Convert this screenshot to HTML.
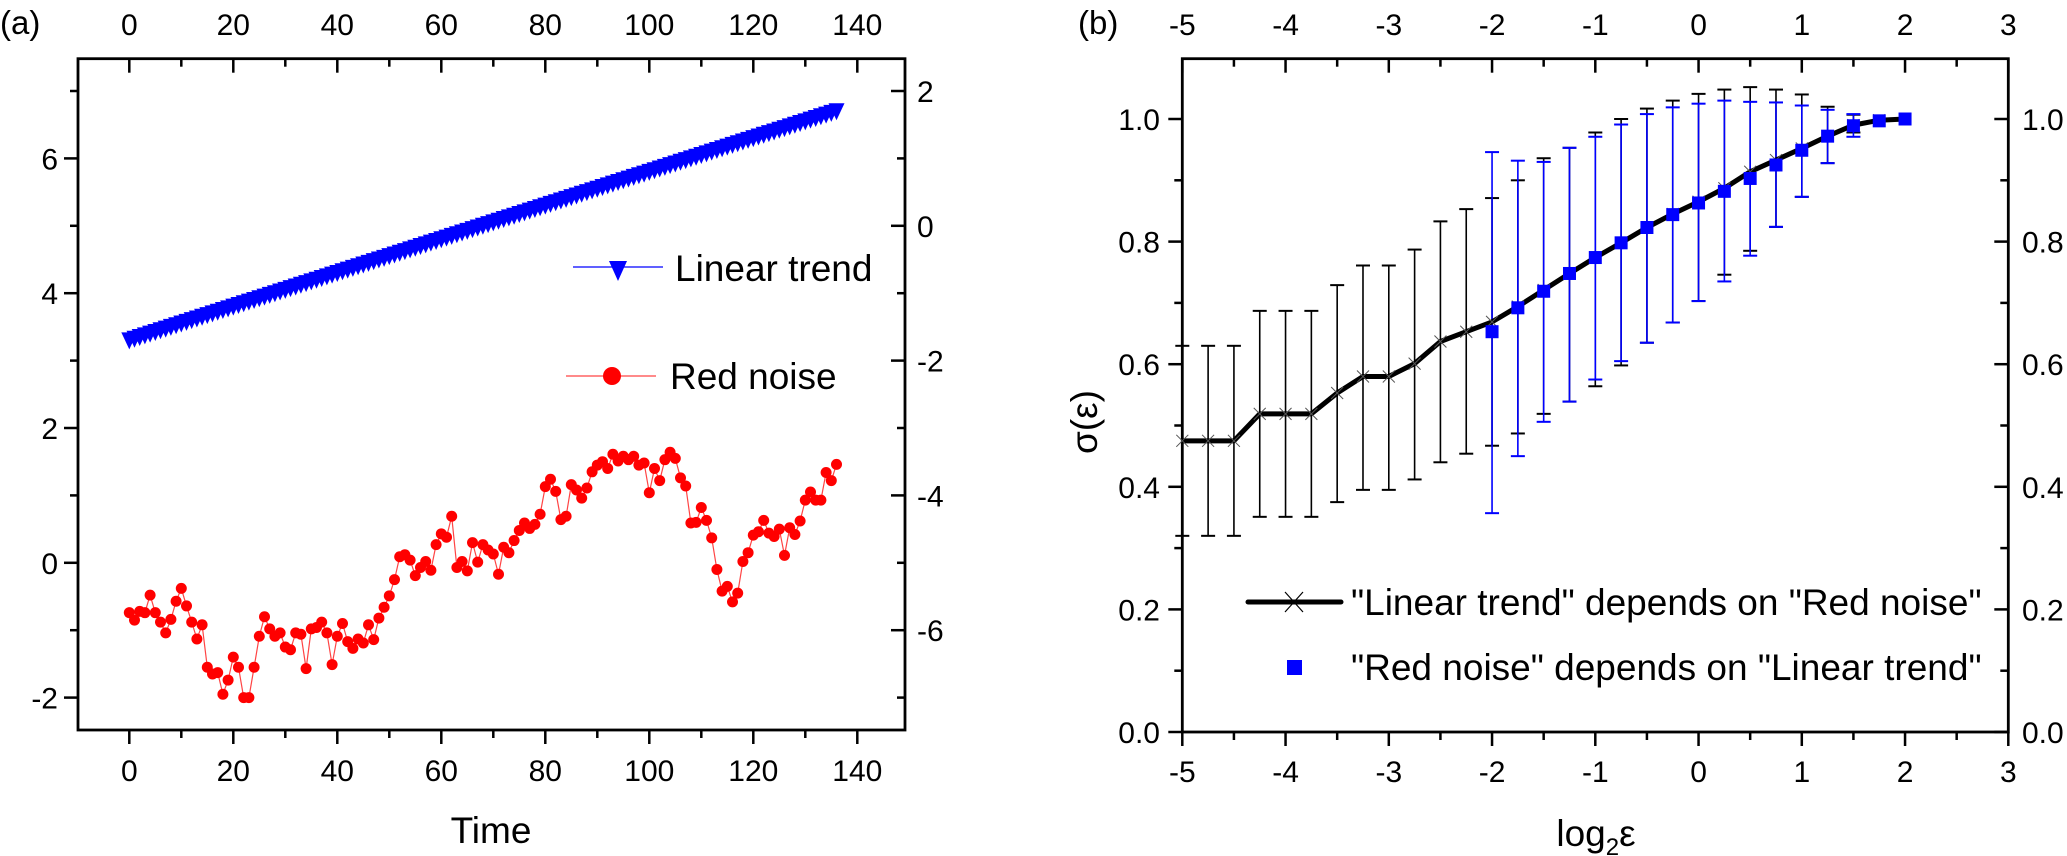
<!DOCTYPE html>
<html><head><meta charset="utf-8"><style>
html,body{margin:0;padding:0;background:#fff;}
svg{display:block;font-family:"Liberation Sans",Arial,sans-serif;}
</style></head><body>
<svg id="fig" width="2067" height="856" viewBox="0 0 2067 856" xmlns="http://www.w3.org/2000/svg">
<text x="0" y="34" font-size="33">(a)</text>
<text x="1078" y="34" font-size="33">(b)</text>
<g id="pa"></g>
<g id="pb"></g>
</svg>
<script>
// ---------- Panel (a) data ----------
const redNoise = [-0.74,-0.85,-0.72,-0.74,-0.48,-0.74,-0.88,-1.04,-0.84,-0.57,-0.38,-0.64,-0.88,-1.13,-0.92,-1.55,-1.65,-1.63,-1.95,-1.74,-1.40,-1.55,-2.0,-2.0,-1.55,-1.09,-0.80,-0.98,-1.09,-1.04,-1.25,-1.29,-1.04,-1.06,-1.57,-0.98,-0.96,-0.88,-1.04,-1.51,-1.09,-0.90,-1.17,-1.27,-1.13,-1.19,-0.92,-1.14,-0.82,-0.66,-0.49,-0.25,0.09,0.12,0.04,-0.19,-0.07,0.02,-0.11,0.27,0.43,0.38,0.69,-0.07,0.02,-0.12,0.30,0.01,0.27,0.19,0.13,-0.17,0.23,0.15,0.33,0.48,0.59,0.51,0.57,0.72,1.13,1.24,1.06,0.64,0.69,1.16,1.08,0.96,1.11,1.35,1.45,1.50,1.40,1.61,1.51,1.58,1.53,1.58,1.45,1.48,1.04,1.40,1.22,1.53,1.64,1.55,1.26,1.14,0.59,0.60,0.82,0.63,0.37,-0.10,-0.42,-0.35,-0.58,-0.45,0.02,0.15,0.41,0.46,0.63,0.44,0.39,0.50,0.11,0.52,0.42,0.62,0.93,1.05,0.93,0.93,1.34,1.22,1.46];
const linearTrend = [3.300,3.325,3.350,3.375,3.400,3.425,3.450,3.475,3.500,3.525,3.550,3.575,3.600,3.625,3.650,3.675,3.700,3.725,3.750,3.775,3.800,3.825,3.850,3.875,3.900,3.925,3.950,3.975,4.000,4.025,4.050,4.075,4.100,4.125,4.150,4.175,4.200,4.225,4.250,4.275,4.300,4.325,4.350,4.375,4.400,4.425,4.450,4.475,4.500,4.525,4.550,4.575,4.600,4.625,4.650,4.675,4.700,4.725,4.750,4.775,4.800,4.825,4.850,4.875,4.900,4.925,4.950,4.975,5.000,5.025,5.050,5.075,5.100,5.125,5.150,5.175,5.200,5.225,5.250,5.275,5.300,5.325,5.350,5.375,5.400,5.425,5.450,5.475,5.500,5.525,5.550,5.575,5.600,5.625,5.650,5.675,5.700,5.725,5.750,5.775,5.800,5.825,5.850,5.875,5.900,5.925,5.950,5.975,6.000,6.025,6.050,6.075,6.100,6.125,6.150,6.175,6.200,6.225,6.250,6.275,6.300,6.325,6.350,6.375,6.400,6.425,6.450,6.475,6.500,6.525,6.550,6.575,6.600,6.625,6.650,6.675,6.700];
const aXTicks = [0,20,40,60,80,100,120,140];
const aYLeftTicks = [-2,0,2,4,6];
const aYRightTicks = [-6,-4,-2,0,2];
// ---------- Panel (b) data ----------
const bX = [-5,-4.75,-4.5,-4.25,-4,-3.75,-3.5,-3.25,-3,-2.75,-2.5,-2.25,-2,-1.75,-1.5,-1.25,-1,-0.75,-0.5,-0.25,0,0.25,0.5,0.75,1,1.25,1.5,1.75,2];
const lineVals = [0.475,0.475,0.475,0.519,0.519,0.519,0.553,0.580,0.580,0.601,0.637,0.653,0.669,0.694,0.721,0.748,0.774,0.798,0.823,0.845,0.865,0.887,0.914,0.933,0.952,0.972,0.990,0.998,1.0];
const lineHi = [0.630,0.630,0.630,0.687,0.687,0.687,0.729,0.761,0.761,0.787,0.833,0.853,0.871,0.900,0.936,0.953,0.978,1.0,1.017,1.030,1.041,1.048,1.052,1.048,1.040,1.020,1.007,1.0,1.0];
const lineLo = [0.320,0.320,0.320,0.351,0.351,0.351,0.375,0.395,0.395,0.412,0.440,0.454,0.467,0.487,0.519,0.539,0.564,0.598,0.635,0.668,0.703,0.746,0.785,0.824,0.873,0.928,0.978,1.0,1.0];
const sqX = [-2,-1.75,-1.5,-1.25,-1,-0.75,-0.5,-0.25,0,0.25,0.5,0.75,1,1.25,1.5,1.75,2];
const sqVals = [0.653,0.692,0.719,0.748,0.774,0.798,0.823,0.844,0.863,0.882,0.903,0.925,0.949,0.972,0.989,0.997,1.0];
const sqHi = [0.946,0.932,0.930,0.953,0.971,0.991,1.008,1.019,1.025,1.030,1.028,1.027,1.022,1.015,1.008,1.0,1.0];
const sqLo = [0.357,0.450,0.506,0.539,0.575,0.605,0.635,0.668,0.703,0.735,0.777,0.824,0.873,0.928,0.971,1.0,1.0];
const bXTicks = [-5,-4,-3,-2,-1,0,1,2,3];
const bYTicks = [0.0,0.2,0.4,0.6,0.8,1.0];

const NS = "http://www.w3.org/2000/svg";
function mk(parent, tag, attrs, text){
  const e = document.createElementNS(NS, tag);
  for (const k in attrs) e.setAttribute(k, attrs[k]);
  if (text !== undefined) e.textContent = text;
  parent.appendChild(e);
  return e;
}
function lab(v){ return v < 0 ? "-" + Math.abs(v) : String(v); }

// ===== Panel A =====
const pa = document.getElementById('pa');
const A = {l:78, r:905, t:58.7, b:730};
const ax = t => 129.3 + t * 5.2;
const ayL = v => 562.8 - v * 67.4;
const ayR = v => ayL(v + 5);

let e;
e = mk(pa, 'rect', {x:A.l, y:A.t, width:A.r-A.l, height:A.b-A.t, fill:'none', stroke:'#000', 'stroke-width':2.8});


// x ticks (bottom outward, top inward)
for (let t = 0; t <= 140; t += 10) {
  const major = t % 20 === 0, L = major ? 14 : 8, x = ax(t);
  e = mk(pa, 'line', {x1:x, x2:x, y1:A.b, y2:A.b+L, stroke:'#000', 'stroke-width':2.5});
  
  
  e = mk(pa, 'line', {x1:x, x2:x, y1:A.t, y2:A.t+L, stroke:'#000', 'stroke-width':2.5});
  
  
}
aXTicks.forEach(t => {
  e = mk(pa, 'text', {x:ax(t), y:781, 'font-size':30, 'text-anchor':'middle'}, lab(t));
  
  
  e = mk(pa, 'text', {x:ax(t), y:35, 'font-size':30, 'text-anchor':'middle'}, lab(t));
  
  
});
// left y ticks (outward)
for (let v = -2; v <= 7; v += 1) {
  const major = v % 2 === 0, L = major ? 14 : 8, y = ayL(v);
  e = mk(pa, 'line', {x1:A.l-L, x2:A.l, y1:y, y2:y, stroke:'#000', 'stroke-width':2.5});
  
  
}
aYLeftTicks.forEach(v => {
  e = mk(pa, 'text', {x:58, y:ayL(v)+11, 'font-size':30, 'text-anchor':'end'}, lab(v));
  
  
});
// right y ticks (inward)
for (let v = -7; v <= 2; v += 1) {
  const major = v % 2 === 0, L = major ? 14 : 8, y = ayR(v);
  e = mk(pa, 'line', {x1:A.r-L, x2:A.r, y1:y, y2:y, stroke:'#000', 'stroke-width':2.5});
  
  
}
aYRightTicks.forEach(v => {
  e = mk(pa, 'text', {x:917, y:ayR(v)+11, 'font-size':30}, lab(v));
  
  
});
e = mk(pa, 'text', {x:491, y:843, 'font-size':37, 'text-anchor':'middle'}, 'Time');



// linear trend series
const ltG = mk(pa, 'g', {});


mk(ltG, 'polyline', {points: linearTrend.map((v,i)=>ax(i)+','+ayL(v)).join(' '), fill:'none', stroke:'#00f', 'stroke-width':1});
linearTrend.forEach((v,i) => {
  const x = ax(i), y = ayL(v);
  e = mk(ltG, 'polygon', {points:`${x-8},${y-8} ${x+8},${y-8} ${x},${y+9}`, fill:'#00f'});
  
  
});
// red noise series
const rnG = mk(pa, 'g', {});


mk(rnG, 'polyline', {points: redNoise.map((v,i)=>ax(i)+','+ayL(v)).join(' '), fill:'none', stroke:'#f44', 'stroke-width':1.2});
redNoise.forEach((v,i) => {
  e = mk(rnG, 'circle', {cx:ax(i), cy:ayL(v), r:5.5, fill:'#f00'});
  
  
});
// legend a
const lgA = mk(pa, 'g', {});


mk(lgA, 'line', {x1:573, x2:663, y1:267, y2:267, stroke:'#00f', 'stroke-width':1.3});
mk(lgA, 'polygon', {points:'609,261 627,261 618,281', fill:'#00f'});
e = mk(lgA, 'text', {x:675, y:281, 'font-size':37}, 'Linear trend');


mk(lgA, 'line', {x1:566, x2:656, y1:376, y2:376, stroke:'#f44', 'stroke-width':1.3});
mk(lgA, 'circle', {cx:612, cy:376, r:9, fill:'#f00'});
e = mk(lgA, 'text', {x:670, y:389, 'font-size':37}, 'Red noise');



// ===== Panel B =====
const pb = document.getElementById('pb');
const B = {l:1182.3, r:2008.3, t:58.7, b:732};
const bx = v => 1182.3 + (v + 5) * 103.25;
const by = v => 732 - v * 613;
e = mk(pb, 'rect', {x:B.l, y:B.t, width:B.r-B.l, height:B.b-B.t, fill:'none', stroke:'#000', 'stroke-width':2.8});


for (let k = 0; k <= 16; k++) {
  const v = -5 + k*0.5, major = k % 2 === 0, L = major ? 14 : 8, x = bx(v);
  e = mk(pb, 'line', {x1:x, x2:x, y1:B.b, y2:B.b+L, stroke:'#000', 'stroke-width':2.5});
  
  
  e = mk(pb, 'line', {x1:x, x2:x, y1:B.t, y2:B.t+L, stroke:'#000', 'stroke-width':2.5});
  
  
}
bXTicks.forEach(v => {
  e = mk(pb, 'text', {x:bx(v), y:782, 'font-size':30, 'text-anchor':'middle'}, lab(v));
  
  
  e = mk(pb, 'text', {x:bx(v), y:35, 'font-size':30, 'text-anchor':'middle'}, lab(v));
  
  
});
for (let k = 0; k <= 10; k++) {
  const v = k*0.1, major = k % 2 === 0, L = major ? 14 : 8, y = by(v);
  e = mk(pb, 'line', {x1:B.l-L, x2:B.l, y1:y, y2:y, stroke:'#000', 'stroke-width':2.5});
  
  
  e = mk(pb, 'line', {x1:B.r-L, x2:B.r, y1:y, y2:y, stroke:'#000', 'stroke-width':2.5});
  
  
}
bYTicks.forEach(v => {
  e = mk(pb, 'text', {x:1160, y:by(v)+11, 'font-size':30, 'text-anchor':'end'}, v.toFixed(1));
  
  
  e = mk(pb, 'text', {x:2022, y:by(v)+11, 'font-size':30}, v.toFixed(1));
  
  
});
e = mk(pb, 'text', {x:0, y:0, 'font-size':37, 'text-anchor':'middle', transform:'translate(1097,422) rotate(-90)'}, 'σ(ε)');


const xt = mk(pb, 'text', {x:1596, y:846, 'font-size':37, 'text-anchor':'middle'});


mk(xt, 'tspan', {}, 'log');
mk(xt, 'tspan', {'font-size':24, dy:9}, '2');
mk(xt, 'tspan', {dy:-9}, 'ε');

// black error bars
const ebK = mk(pb, 'g', {});


bX.forEach((v,i) => {
  if (lineHi[i] - lineLo[i] < 0.005) return;
  const x = bx(v);
  mk(ebK, 'line', {x1:x, x2:x, y1:by(lineHi[i]), y2:by(lineLo[i]), stroke:'#000', 'stroke-width':1.6});
  mk(ebK, 'line', {x1:x-7, x2:x+7, y1:by(lineHi[i]), y2:by(lineHi[i]), stroke:'#000', 'stroke-width':2});
  mk(ebK, 'line', {x1:x-7, x2:x+7, y1:by(lineLo[i]), y2:by(lineLo[i]), stroke:'#000', 'stroke-width':2});
});
// blue error bars
const ebB = mk(pb, 'g', {});


sqX.forEach((v,i) => {
  if (sqHi[i] - sqLo[i] < 0.005) return;
  const x = bx(v);
  mk(ebB, 'line', {x1:x, x2:x, y1:by(sqHi[i]), y2:by(sqLo[i]), stroke:'#00f', 'stroke-width':1.6});
  mk(ebB, 'line', {x1:x-7, x2:x+7, y1:by(sqHi[i]), y2:by(sqHi[i]), stroke:'#00f', 'stroke-width':2});
  mk(ebB, 'line', {x1:x-7, x2:x+7, y1:by(sqLo[i]), y2:by(sqLo[i]), stroke:'#00f', 'stroke-width':2});
});
// black line
e = mk(pb, 'polyline', {points: bX.map((v,i)=>bx(v)+','+by(lineVals[i])).join(' '), fill:'none', stroke:'#000', 'stroke-width':5, 'stroke-linejoin':'round'});


bX.forEach((v,i) => {
  const x = bx(v), y = by(lineVals[i]);
  e = mk(pb, 'path', {d:`M${x-6},${y-6}L${x+6},${y+6}M${x-6},${y+6}L${x+6},${y-6}`, stroke:'#555', 'stroke-width':1});
  
  
});
// blue squares
sqX.forEach((v,i) => {
  e = mk(pb, 'rect', {x:bx(v)-6.5, y:by(sqVals[i])-6.5, width:13, height:13, fill:'#00f'});
  
  
});
// legend b
const lgB = mk(pb, 'g', {});


mk(lgB, 'line', {x1:1248, x2:1341, y1:602, y2:602, stroke:'#000', 'stroke-width':5, 'stroke-linecap':'round'});
mk(lgB, 'path', {d:'M1285,592L1303,612M1285,612L1303,592', stroke:'#000', 'stroke-width':1.2});
e = mk(lgB, 'text', {x:1351, y:615, 'font-size':37}, '"Linear trend" depends on "Red noise"');


mk(lgB, 'rect', {x:1287, y:660, width:15, height:15, fill:'#00f'});
e = mk(lgB, 'text', {x:1351, y:680, 'font-size':37}, '"Red noise" depends on "Linear trend"');


</script>
</body></html>
